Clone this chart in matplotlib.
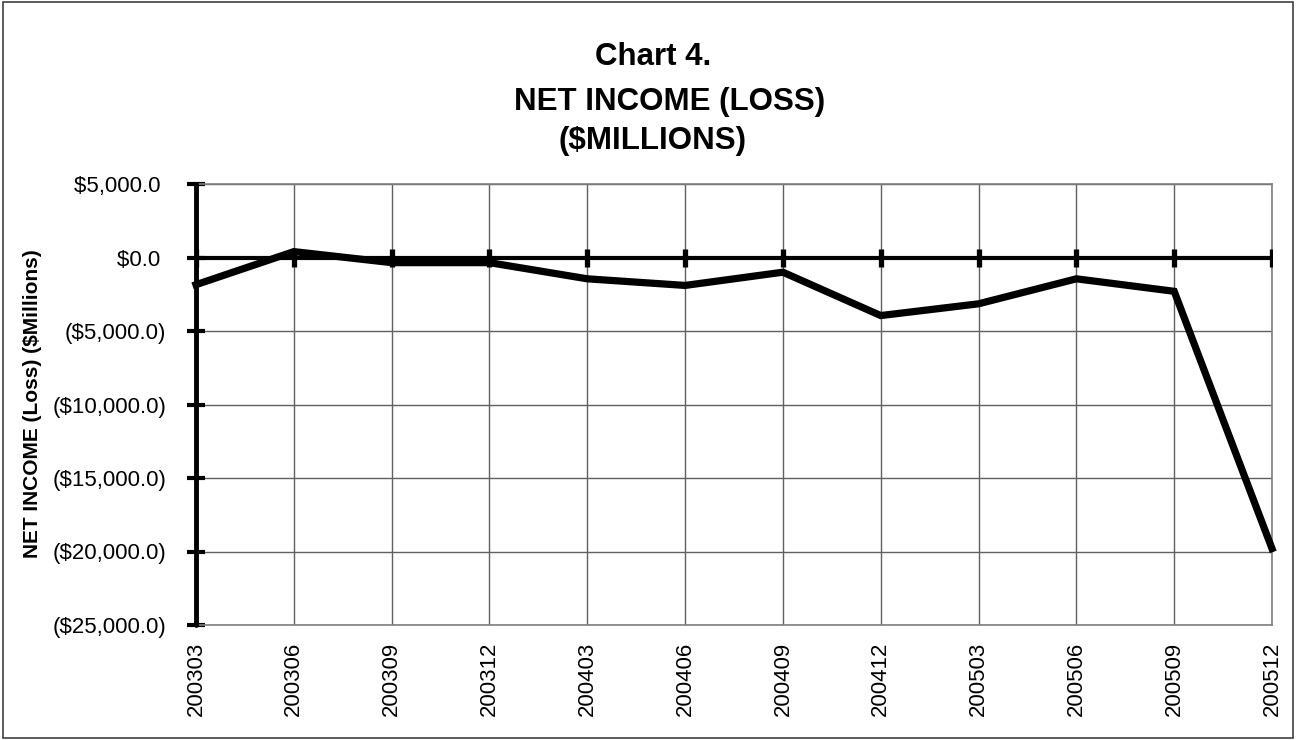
import matplotlib.pyplot as plt
from matplotlib.patches import Rectangle
from matplotlib.ticker import FuncFormatter

plt.rcParams['font.family'] = ['Liberation Sans', 'DejaVu Sans']

# quarters and net income ($ millions)
quarters = ["200303", "200306", "200309", "200312", "200403", "200406",
            "200409", "200412", "200503", "200506", "200509", "200512"]
net_income = [-1850, 400, -350, -350, -1450, -1900,
              -1000, -3950, -3150, -1450, -2300, -19800]
y_ticks = [5000, 0, -5000, -10000, -15000, -20000, -25000]


def money(v, pos=None):
    # trailing space lines the digits up with the bracketed negatives
    if v < 0:
        return "(${:,.1f})".format(-v)
    return "${:,.1f} ".format(v)


W, H = 1296, 740
fig = plt.figure(figsize=(W / 100, H / 100), dpi=100)
fig.patches.append(Rectangle((0.002, 0.003), 0.996, 0.994, transform=fig.transFigure,
                             fill=False, edgecolor='#404040', lw=1.2))

ax = fig.add_axes([196 / W, 115 / H, 1076 / W, 441 / H])
x = list(range(len(quarters)))

ax.set_xlim(0, len(quarters) - 1)
ax.set_ylim(-25000, 5000)
ax.set_yticks(y_ticks)
ax.yaxis.set_major_formatter(FuncFormatter(money))
ax.set_xticks(x)
ax.set_xticklabels(quarters, rotation=90)

# grid
for xi in x:
    ax.axvline(xi, color='#606060', lw=1, zorder=1)
for yt in y_ticks:
    ax.axhline(yt, color='#606060', lw=1, zorder=1)

# zero line with its tick marks
ax.axhline(0, color='black', lw=3, zorder=3)
ax.plot(x, [0] * len(x), ls='none', marker='|', markersize=13, mew=3.8,
        color='black', zorder=3)

ax.plot(x, net_income, color='black', lw=5.2, solid_joinstyle='miter', zorder=4,
        clip_on=False)

for side in ['top', 'right', 'bottom']:
    ax.spines[side].set_color('#808080')
    ax.spines[side].set_linewidth(1.2)
ax.spines['left'].set_linewidth(3.5)
ax.spines['left'].set_capstyle('round')
ax.spines['left'].set_zorder(5)

ax.tick_params(axis='y', direction='inout', length=13, width=3, labelsize=16, pad=15)
ax.tick_params(axis='x', length=0, labelsize=16, pad=12)

fig.text(33 / W, 1 - 404 / H, "NET INCOME (Loss) ($Millions)", rotation=90,
         ha='center', va='center', fontsize=15, fontweight='bold')

fig.text(653 / W, 1 - 65 / H, "Chart 4.", ha='center', va='baseline',
         fontsize=22.5, fontweight='bold')
fig.text(670 / W, 1 - 110 / H, "NET INCOME (LOSS)", ha='center', va='baseline',
         fontsize=22.5, fontweight='bold')
fig.text(652 / W, 1 - 149 / H, "($MILLIONS)", ha='center', va='baseline',
         fontsize=22.5, fontweight='bold')

fig.savefig("out.png", dpi=100)
